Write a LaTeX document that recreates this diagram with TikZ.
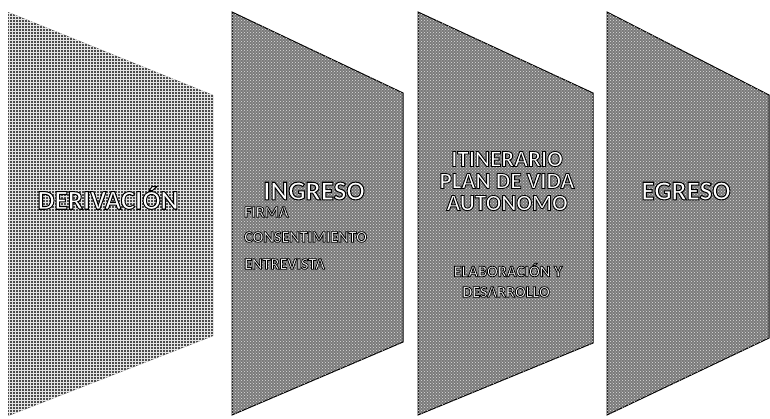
\documentclass[tikz,border=0pt]{standalone}
\usepackage{fontspec}
\setmainfont{Carlito}
\usetikzlibrary{patterns}
% white letters with a black outline (PDF text render mode 2)
\newcommand{\ow}[2][0.8]{{\color{white}\special{pdf:literal 2 Tr #1 w 0 G}#2}}
\tikzset{
  panel/.style={draw=black, line width=1pt, fill=black!52,
    postaction={pattern=crosshatch dots, pattern color=white!75!gray}},
  firstpanel/.style={fill=black!70,
    postaction={pattern=grid, pattern color=white!80!gray}},
  bigtxt/.style={font=\bfseries\fontsize{27}{27}\selectfont, inner sep=0pt},
  midtxt/.style={font=\bfseries\fontsize{23}{23}\selectfont, inner sep=0pt},
  smalltxt/.style={font=\bfseries\fontsize{16}{24}\selectfont, inner sep=0pt},
}
\begin{document}
\begin{tikzpicture}[x=1pt,y=-1pt]
\useasboundingbox (0,0) rectangle (770,418);
\fill[white] (0,0) rectangle (770,418);
% panels
\path[firstpanel] (8,12) -- (213,95) -- (213,336) -- (8,416) -- cycle;
\path[panel] (232,12) -- (403,93) -- (403,342) -- (232,415) -- cycle;
\path[panel] (418,12) -- (593,93) -- (593,343) -- (418,415) -- cycle;
\path[panel] (607,12) -- (769,95) -- (769,338) -- (607,415) -- cycle;
% texts
\node[bigtxt] (t1) at (108,198) {\ow[1.0]{DERIVACIÓN}};
\node[bigtxt] (t2) at (314,191) {\ow[1.0]{INGRESO}};
\node[smalltxt, anchor=west] (t2a) at (244,212) {\ow{FIRMA}};
\node[smalltxt, anchor=west] (t2b) at (244,237) {\ow{CONSENTIMIENTO}};
\node[smalltxt, anchor=west] (t2c) at (244,264) {\ow{ENTREVISTA}};
\node[midtxt] (t3a) at (507,159) {\ow[0.9]{ITINERARIO}};
\node[midtxt] (t3b) at (507,181) {\ow[0.9]{PLAN DE VIDA}};
\node[midtxt] (t3c) at (507,203) {\ow[0.9]{AUTONOMO}};
\node[smalltxt] (t3d) at (508,270) {\ow{ELABORACIÓN Y}};
\node[smalltxt] (t3e) at (506,292) {\ow{DESARROLLO}};
\node[bigtxt] (t4) at (686,191) {\ow[1.0]{EGRESO}};
\end{tikzpicture}
\end{document}
